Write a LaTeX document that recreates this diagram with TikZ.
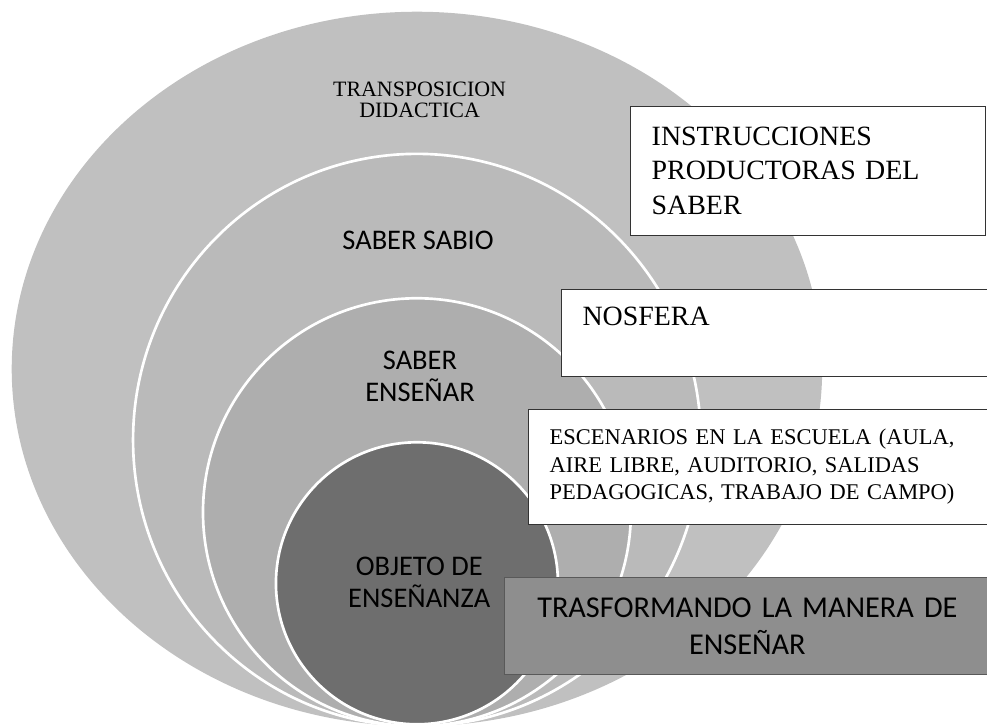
\documentclass[tikz,border=0pt]{standalone}
\usepackage{fontspec}
\setmainfont{Liberation Serif}
\newfontfamily\calibri{Carlito}
\usepackage{tikz}
\definecolor{outergray}{HTML}{C0C0C0}
\definecolor{sabiogray}{HTML}{BABABA}
\definecolor{ensenargray}{HTML}{AEAEAE}
\definecolor{objetogray}{HTML}{6E6E6E}
\definecolor{boxgray}{HTML}{8E8E8E}
\tikzstyle{ring} = [draw=white, line width=2pt]
\tikzstyle{ringtext} = [align=center, font=\calibri\fontsize{21.4}{24}\selectfont]
\tikzstyle{whitebox} = [rectangle, anchor=north west, draw=black!80, fill=white, line width=0.6pt, align=left, inner xsep=0.56cm, inner ysep=0pt]

\begin{document}
\begin{tikzpicture}
        \useasboundingbox (0,0) rectangle (26.11,-19.16);

        \fill[outergray] (11.03,-9.76) ellipse [x radius=10.72, y radius=9.45];
        \filldraw[ring, fill=sabiogray] (11.03,-11.64) ellipse [x radius=7.51, y radius=7.57];
        \filldraw[ring, fill=ensenargray] (11.03,-13.55) circle [radius=5.66];
        \filldraw[ring, fill=objetogray] (11.03,-15.43) circle [radius=3.73];

        \node (transp) [align=center, font=\fontsize{16.5}{16}\selectfont] at (11.10,-2.65) {TRANSPOSICION \\ DIDACTICA};
        \node (sabio) [ringtext] at (11.06,-6.35) {SABER SABIO};
        \node (ensenar) [ringtext] at (11.11,-9.95) {SABER \\ ENSEÑAR};
        \node (objeto) [ringtext] at (11.09,-15.40) {OBJETO DE \\ ENSEÑANZA};

        \node (instr) [whitebox, text width=8.27cm, minimum height=3.41cm, font=\fontsize{21}{26}\selectfont] at (16.67,-2.80) {INSTRUCCIONES \\ PRODUCTORAS DEL \\ SABER};
        \node (nosf) [whitebox, text width=10.23cm, minimum height=2.30cm, font=\fontsize{21}{26}\selectfont] at (14.84,-7.65) {NOSFERA \\ ~};
        \node (escen) [whitebox, text width=11.10cm, minimum height=3.04cm, font=\fontsize{16.9}{20.8}\selectfont] at (13.97,-10.82) {ESCENARIOS EN LA ESCUELA (AULA, \\ AIRE LIBRE, AUDITORIO, SALIDAS \\ PEDAGOGICAS, TRABAJO DE CAMPO)};
        \node (trans) [whitebox, fill=boxgray, draw=black!65, align=center, text width=11.74cm, minimum height=2.57cm, font=\calibri\fontsize{22.8}{28.5}\selectfont] at (13.33,-15.27) {TRASFORMANDO LA MANERA DE \\ ENSEÑAR};

    \end{tikzpicture}
\end{document}
